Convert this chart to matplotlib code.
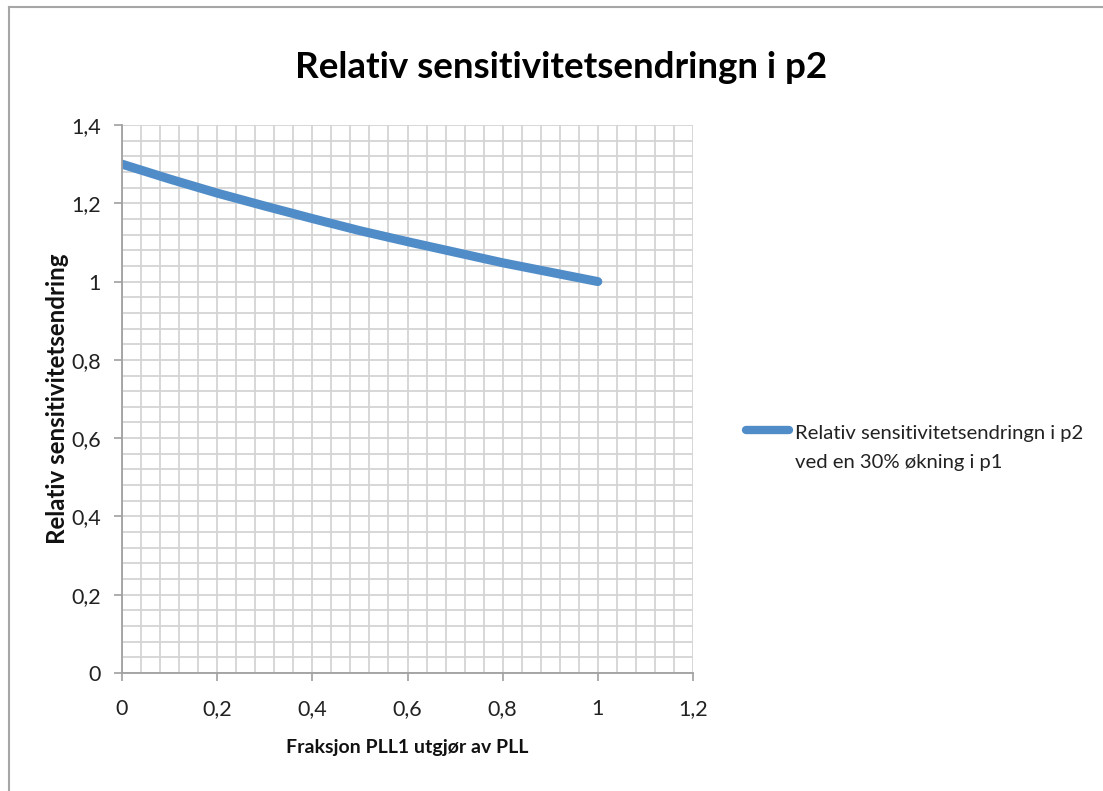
import matplotlib
matplotlib.use("Agg")
import matplotlib.pyplot as plt
from matplotlib.ticker import MultipleLocator, FixedLocator
from matplotlib.lines import Line2D

plt.rcParams['font.family'] = ['Lato', 'DejaVu Sans']

# Data
x_vals = [0.0, 0.1, 0.2, 0.3, 0.4, 0.5, 0.6, 0.7, 0.8, 0.9, 1.0]
y_vals = [1.300, 1.262, 1.226, 1.193, 1.161, 1.130, 1.102, 1.075, 1.048, 1.024, 1.000]
x_ticks = [0, 0.2, 0.4, 0.6, 0.8, 1.0, 1.2]
x_ticklabels = ["0", "0,2", "0,4", "0,6", "0,8", "1", "1,2"]
y_ticks = [0, 0.2, 0.4, 0.6, 0.8, 1.0, 1.2, 1.4]
y_ticklabels = ["0", "0,2", "0,4", "0,6", "0,8", "1", "1,2", "1,4"]
title = "Relativ sensitivitetsendringn i p2"
xlabel = "Fraksjon PLL1 utgjør av PLL"
ylabel = "Relativ sensitivitetsendring"
legend_lines = ["Relativ sensitivitetsendringn i p2", "ved en 30% økning i p1"]

W, H = 1103, 791
fig = plt.figure(figsize=(W / 100, H / 100), dpi=100)

# outer chart frame (left and top edges visible)
fig.add_artist(Line2D([9 / W, 9 / W], [0, 1 - 7 / H], transform=fig.transFigure,
                      color="#a6a6a6", lw=1.5))
fig.add_artist(Line2D([9 / W, 1], [1 - 7 / H, 1 - 7 / H], transform=fig.transFigure,
                      color="#a6a6a6", lw=1.5))

left, right = 122 / W, 693 / W
bottom, top = (H - 673) / H, (H - 125) / H
ax = fig.add_axes([left, bottom, right - left, top - bottom])
ax.set_xlim(0, 1.2)
ax.set_ylim(0, 1.4)

ax.xaxis.set_major_locator(FixedLocator(x_ticks))
ax.yaxis.set_major_locator(FixedLocator(y_ticks))
ax.set_xticklabels(x_ticklabels)
ax.set_yticklabels(y_ticklabels)
ax.xaxis.set_minor_locator(MultipleLocator(0.04))
ax.yaxis.set_minor_locator(MultipleLocator(0.04))
ax.grid(which="both", color="#d4d4d4", lw=1.3)
ax.set_axisbelow(True)
ax.tick_params(which="major", direction="out", length=6, width=1.2, color="#a0a0a0",
               labelsize=15.5, labelcolor="#222222")
ax.tick_params(axis="x", which="major", pad=13)
ax.tick_params(axis="y", which="major", pad=9)
ax.tick_params(which="minor", length=0)
for s in ["top", "right"]:
    ax.spines[s].set_visible(False)
for s in ["left", "bottom"]:
    ax.spines[s].set_color("#a0a0a0")
    ax.spines[s].set_linewidth(1.3)

line, = ax.plot(x_vals, y_vals, color="#508dc8", lw=6.5, solid_capstyle="round")

fig.text((296 + 826) / 2 / W, 1 - 68 / H, title, ha="center", va="center",
         fontsize=26.5, fontweight="bold", color="black")
fig.text((left + right) / 2, 1 - 748 / H, xlabel, ha="center", va="center",
         fontsize=14, fontweight="bold", color="#111111")
fig.text(58 / W, 1 - 399 / H, ylabel, ha="center", va="center", rotation=90,
         fontsize=17.4, fontweight="bold", color="#111111")

# legend (handle aligned with first text line, as in the reference)
fig.add_artist(Line2D([746 / W, 789 / W], [1 - 430 / H, 1 - 430 / H],
                      transform=fig.transFigure, color=line.get_color(), lw=6,
                      solid_capstyle="round"))
for i, txt in enumerate(legend_lines):
    fig.text(795 / W, 1 - (433 + 30 * i) / H, txt, ha="left", va="center",
             fontsize=14.6, color="#222222")

fig.savefig("out.png", dpi=100, facecolor="white")
